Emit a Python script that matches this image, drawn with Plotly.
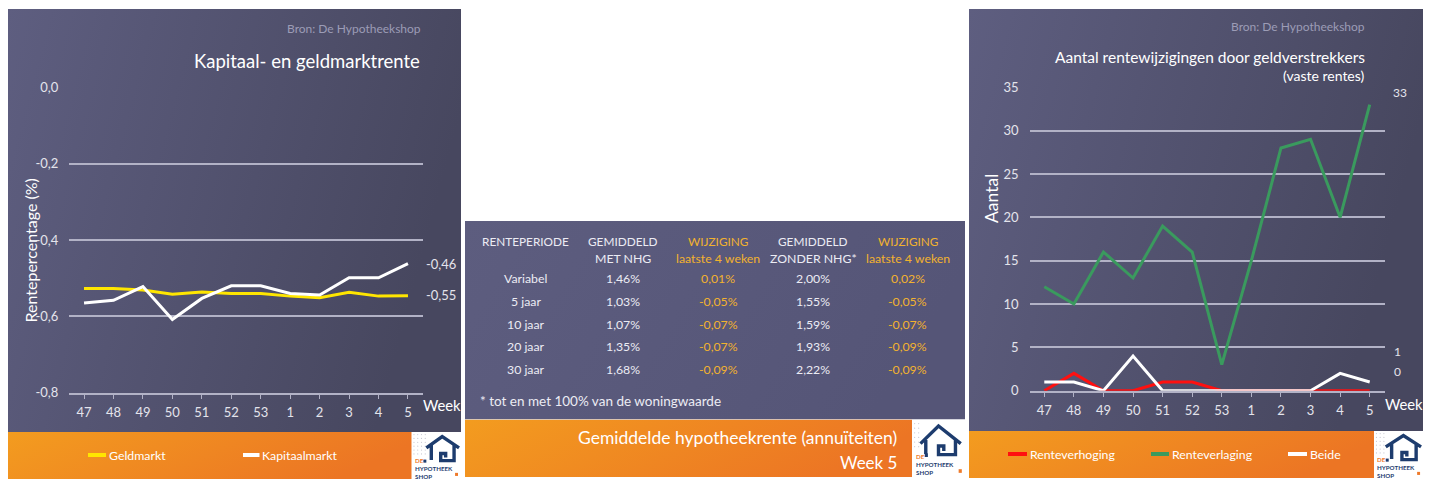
import base64
import plotly.graph_objects as go

W, H = 1440, 492
OX, OY = 8, 8          # page body margin offset compensation
FONT = "Lato"

# ---------------- data ----------------
weeks = ["47", "48", "49", "50", "51", "52", "53", "1", "2", "3", "4", "5"]

geldmarkt = [-0.527, -0.527, -0.531, -0.542, -0.536, -0.540, -0.540, -0.547, -0.551, -0.537, -0.547, -0.546]
kapitaalmarkt = [-0.565, -0.558, -0.522, -0.608, -0.553, -0.520, -0.520, -0.540, -0.544, -0.499, -0.499, -0.462]
left_ytickvals = [0.0, -0.2, -0.4, -0.6, -0.8]
left_yticktext = ["0,0", "-0,2", "-0,4", "-0,6", "-0,8"]
left_end_labels = ["-0,46", "-0,55"]

renteverhoging = [0, 2, 0, 0, 1, 1, 0, 0, 0, 0, 0, 0]
renteverlaging = [12, 10, 16, 13, 19, 16, 3, 15, 28, 29, 20, 33]
beide = [1, 1, 0, 4, 0, 0, 0, 0, 0, 0, 2, 1]
right_ytickvals = [0, 5, 10, 15, 20, 25, 30, 35]
right_end_labels = ["33", "1", "0"]

table_header1 = ["RENTEPERIODE", "GEMIDDELD", "WIJZIGING", "GEMIDDELD", "WIJZIGING"]
table_header2 = ["", "MET NHG", "laatste 4 weken", "ZONDER NHG*", "laatste 4 weken"]
periods = ["Variabel", "5 jaar", "10 jaar", "20 jaar", "30 jaar"]
avg_met_nhg = ["1,46%", "1,03%", "1,07%", "1,35%", "1,68%"]
chg_met_nhg = ["0,01%", "-0,05%", "-0,07%", "-0,07%", "-0,09%"]
avg_zonder_nhg = ["2,00%", "1,55%", "1,59%", "1,93%", "2,22%"]
chg_zonder_nhg = ["0,02%", "-0,05%", "-0,07%", "-0,09%", "-0,09%"]

# ---------------- styling ----------------
PURPLE_L, PURPLE_R = "#5e5e80", "#47475f"
ORANGE_L, ORANGE_R = "#f39c1f", "#ec7524"
GRID = "#b2b2c6"
TICK = "#e4e4ec"
WHITE = "#ffffff"
LIGHT = "#ececf4"
GOLD = "#f2b22e"
YELLOW = "#ffe600"
GREEN = "#3a9a5e"
RED = "#ff1010"
NAVY = "#1d3c6e"


def px(x):
    return (x - OX) / W


def py(y):
    return 1 - (y - OY) / H


def grad_uri(c1, c2):
    svg = ('<svg xmlns="http://www.w3.org/2000/svg" width="100" height="100" viewBox="0 0 100 100" '
           'preserveAspectRatio="none"><defs><linearGradient id="g" x1="0" y1="0" x2="1" y2="0.25">'
           f'<stop offset="0" stop-color="{c1}"/><stop offset="1" stop-color="{c2}"/>'
           '</linearGradient></defs><rect width="100" height="100" fill="url(#g)"/></svg>')
    return "data:image/svg+xml;base64," + base64.b64encode(svg.encode()).decode()


images = []
shapes = []
annotations = []


def panel(x0, y0, x1, y1, c1, c2):
    images.append(dict(source=grad_uri(c1, c2), xref="paper", yref="paper",
                       x=px(x0), y=py(y0), sizex=(x1 - x0) / W, sizey=(y1 - y0) / H,
                       xanchor="left", yanchor="top", sizing="stretch", layer="below"))


def text(x, y, s, size, color=WHITE, xanchor="center", yanchor="middle", angle=0, align="center"):
    annotations.append(dict(x=px(x), y=py(y), xref="paper", yref="paper", text=s,
                            showarrow=False, xanchor=xanchor, yanchor=yanchor, textangle=angle, align=align,
                            font=dict(family=FONT, size=size, color=color)))


def hline(x0, x1, y, color, width):
    shapes.append(dict(type="line", xref="paper", yref="paper", x0=px(x0), x1=px(x1), y0=py(y), y1=py(y),
                       line=dict(color=color, width=width)))


def logo(x0, y0, w, h, roof_l, apex_x, roof_r, eave_y, wall_l, wall_r):
    sy = h / 46.0
    sx = w / 50.0
    shapes.append(dict(type="rect", xref="paper", yref="paper", x0=px(x0), x1=px(x0 + w), y0=py(y0), y1=py(y0 + h),
                       fillcolor="white", line=dict(width=0), layer="above"))
    # halftone dots
    for i in range(12):
        for j in range(6):
            dx, dy = 2.5 + i * 3.8, 2.5 + j * 3.8
            if roof_l - 1 < dx < roof_r + 1 and 2 < dy < 30:
                continue
            col = "#c9c9d3" if dx < 30 else "#f0b89a"
            shapes.append(dict(type="circle", xref="paper", yref="paper",
                               x0=px(x0 + dx * sx - 0.6), x1=px(x0 + dx * sx + 0.6),
                               y0=py(y0 + dy * sy - 0.6), y1=py(y0 + dy * sy + 0.6),
                               fillcolor=col, line=dict(width=0), layer="above"))

    def P(a, b):
        return "%f %f" % (px(x0 + a * sx), py(y0 + b * sy))
    mid = (wall_l + wall_r) / 2
    path = ("M " + P(roof_l, eave_y) + " L " + P(apex_x, 4.5) + " L " + P(roof_r, eave_y)
            + " M " + P(wall_l, eave_y - 3) + " L " + P(wall_l, 27.5)
            + " M " + P(wall_r, eave_y - 3) + " L " + P(wall_r, 28) + " L " + P(mid - 2, 28)
            + " L " + P(mid - 2, 21) + " L " + P(mid + 3, 21) + " L " + P(mid + 3, 25))
    shapes.append(dict(type="path", xref="paper", yref="paper", path=path,
                       line=dict(color=NAVY, width=3.4), layer="above"))
    shapes.append(dict(type="rect", xref="paper", yref="paper", x0=px(x0 + 12 * sx), x1=px(x0 + 15 * sx),
                       y0=py(y0 + 27 * sy), y1=py(y0 + 30 * sy), fillcolor=NAVY, line=dict(width=0), layer="above"))
    shapes.append(dict(type="rect", xref="paper", yref="paper", x0=px(x0 + 44 * sx), x1=px(x0 + 47 * sx),
                       y0=py(y0 + 40 * sy), y1=py(y0 + 43 * sy), fillcolor="#ee7a2a", line=dict(width=0), layer="above"))
    text(x0 + 1.5 * sx, y0 + 36 * sy,
         "<b><span style='color:#ee7a2a'>DE</span><br>HYPOTHEEK<br>SHOP</b>", 6.2,
         color=NAVY, xanchor="left", align="left")


# ---------------- panels ----------------
panel(8, 9, 461, 432, PURPLE_L, PURPLE_R)
panel(8, 432, 412, 479, ORANGE_L, ORANGE_R)
panel(465, 221, 965, 419.5, "#5d5d7f", "#555577")
panel(465, 419.5, 912, 477, ORANGE_L, ORANGE_R)
panel(969, 9, 1423, 431, PURPLE_L, PURPLE_R)
panel(969, 431, 1374, 478, ORANGE_L, ORANGE_R)

logo(411.5, 432, 49.5, 47, 15, 31, 48, 15.5, 20, 43)
logo(912, 420.5, 53, 56, 8, 25, 46, 19, 13, 41)
logo(1374, 431, 49, 47, 12, 30, 48, 15.5, 18, 43)

fig = go.Figure()

# ---------------- left chart ----------------
fig.add_trace(go.Scatter(x=weeks, y=geldmarkt, mode="lines", line=dict(color=YELLOW, width=3),
                         xaxis="x", yaxis="y", showlegend=False, name="Geldmarkt"))
fig.add_trace(go.Scatter(x=weeks, y=kapitaalmarkt, mode="lines", line=dict(color=WHITE, width=3),
                         xaxis="x", yaxis="y", showlegend=False, name="Kapitaalmarkt"))

# ---------------- right chart ----------------
fig.add_trace(go.Scatter(x=weeks, y=renteverhoging, mode="lines", line=dict(color=RED, width=3),
                         xaxis="x2", yaxis="y2", showlegend=False, name="Renteverhoging"))
fig.add_trace(go.Scatter(x=weeks, y=renteverlaging, mode="lines", line=dict(color=GREEN, width=3),
                         xaxis="x2", yaxis="y2", showlegend=False, name="Renteverlaging"))
fig.add_trace(go.Scatter(x=weeks, y=beide, mode="lines", line=dict(color=WHITE, width=3),
                         xaxis="x2", yaxis="y2", showlegend=False, name="Beide"))

axis_common_x = dict(type="category", range=[-0.5, 11.5], showgrid=False, zeroline=False, automargin=False,
                     showline=True, linecolor=GRID, linewidth=1.6, ticks="outside", ticklen=4, tickwidth=1.2,
                     tickcolor=GRID, tickfont=dict(family=FONT, size=13, color=TICK), fixedrange=True)
axis_common_y = dict(showgrid=True, gridcolor=GRID, gridwidth=1.6, zeroline=False, showline=False, ticks="",
                     automargin=False, tickfont=dict(family=FONT, size=13, color=TICK), fixedrange=True)

fig.update_layout(
    xaxis=dict(domain=[px(69.3), px(422.7)], anchor="y", **axis_common_x, ticklabelstandoff=3),
    yaxis=dict(domain=[py(392.7), py(87.3)], anchor="x", range=[-0.8, 0.0], tickvals=left_ytickvals,
               ticktext=left_yticktext, ticklabelstandoff=10, **axis_common_y),
    xaxis2=dict(domain=[px(1029.5), px(1384.5)], anchor="y2", **axis_common_x, ticklabelstandoff=3),
    yaxis2=dict(domain=[py(390.7), py(87.3)], anchor="x2", range=[0, 35], tickvals=right_ytickvals,
                ticklabelstandoff=10, **axis_common_y),
)

# ---------------- left texts ----------------
text(423, 28, "Bron: De Hypotheekshop", 12, color="#9c9cb6", xanchor="right")
text(422, 61, "Kapitaal- en geldmarktrente", 18.5, xanchor="right")
text(29.5, 251, "Rentepercentage (%)", 16, angle=-90)
text(421, 405, "Week", 14.8, xanchor="left")
text(424, 264, left_end_labels[0], 13, color=TICK, xanchor="left")
text(424, 295, left_end_labels[1], 13, color=TICK, xanchor="left")
hline(88, 106, 455, YELLOW, 4)
text(106.5, 455, "Geldmarkt", 12.3, xanchor="left")
hline(243, 259.5, 455, WHITE, 4)
text(259.5, 455, "Kapitaalmarkt", 12.3, xanchor="left")

# ---------------- right texts ----------------
text(1367, 27, "Bron: De Hypotheekshop", 12, color="#9c9cb6", xanchor="right")
text(1367, 56.5, "Aantal rentewijzigingen door geldverstrekkers", 15.5, xanchor="right")
text(1367, 75, "(vaste rentes)", 14, xanchor="right")
text(991, 199, "Aantal", 17.5, angle=-90)
text(1383, 404, "Week", 14.8, xanchor="left")
text(1400, 93, right_end_labels[0], 12, color=TICK)
text(1397, 351, right_end_labels[1], 12, color=TICK)
text(1397, 371, right_end_labels[2], 12, color=TICK)
hline(1008, 1027, 454, RED, 4)
text(1027.5, 454, "Renteverhoging", 12.3, xanchor="left")
hline(1151, 1169, 454, GREEN, 4)
text(1169.5, 454, "Renteverlaging", 12.3, xanchor="left")
hline(1288, 1307, 454, WHITE, 4)
text(1307.5, 454, "Beide", 12.3, xanchor="left")

# ---------------- middle table ----------------
col_x = [525.7, 623, 718, 813, 907.7]
col_color = [LIGHT, LIGHT, GOLD, LIGHT, GOLD]
for c in range(5):
    text(col_x[c], 241, table_header1[c], 11.8, color=col_color[c])
    if table_header2[c]:
        text(col_x[c], 258, table_header2[c], 12.3, color=col_color[c])
row_y = [278.3, 301.7, 324, 346.7, 369]
columns = [periods, avg_met_nhg, chg_met_nhg, avg_zonder_nhg, chg_zonder_nhg]
for c, col in enumerate(columns):
    for r, v in enumerate(col):
        text(col_x[c], row_y[r], v, 12.3, color=col_color[c])
text(478, 400.5, "* tot en met 100% van de woningwaarde", 13.5, color=LIGHT, xanchor="left")
text(899, 437, "Gemiddelde hypotheekrente (annuïteiten)", 17.5, xanchor="right")
text(899, 462, "Week 5", 17, xanchor="right")

fig.update_layout(
    width=W, height=H, margin=dict(l=0, r=0, t=0, b=0, pad=0, autoexpand=False),
    paper_bgcolor="white", plot_bgcolor="rgba(0,0,0,0)",
    images=images, shapes=shapes, annotations=annotations,
    font=dict(family=FONT), showlegend=False,
)

fig.write_html("out.html")
